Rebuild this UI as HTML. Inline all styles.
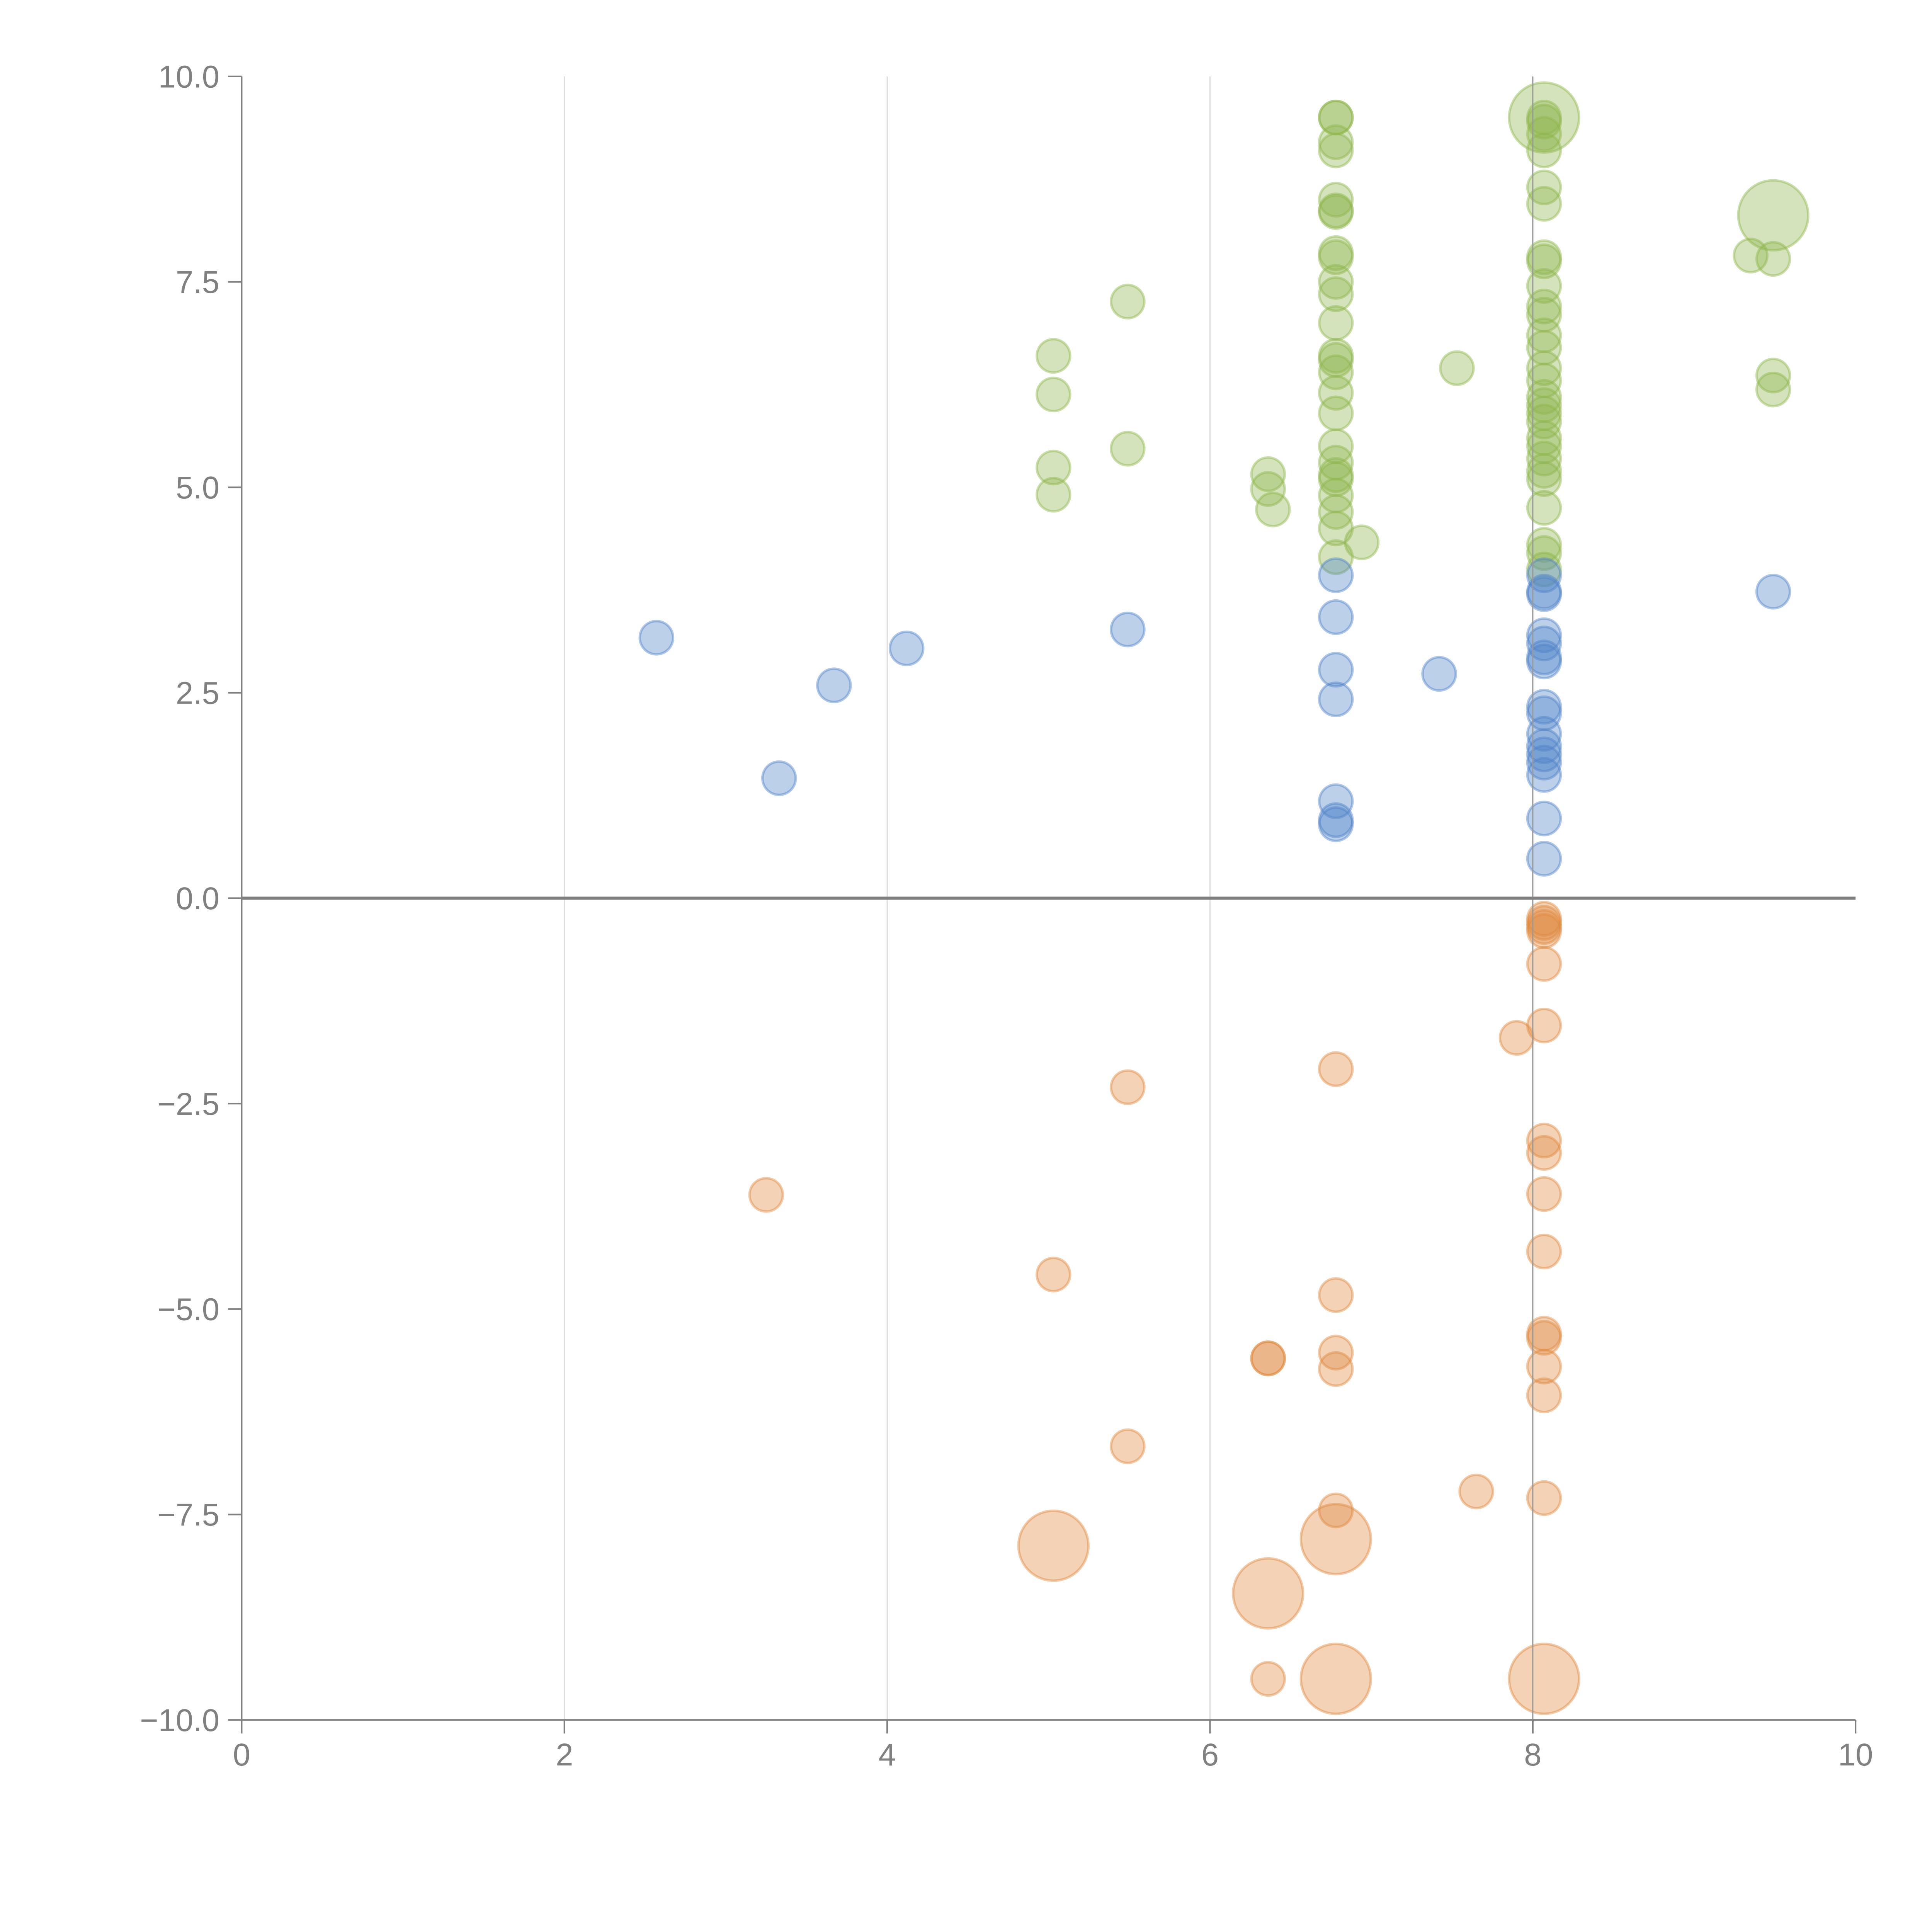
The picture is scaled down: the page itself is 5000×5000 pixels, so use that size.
<!DOCTYPE html>
<html><head><meta charset="utf-8"><style>
html,body{margin:0;padding:0;background:#fff}
svg{display:block}
text{font-family:"Liberation Sans",sans-serif;fill:#808080}
</style></head><body>
<svg id="chart" width="5000" height="5000" viewBox="0 0 1567 1567" xmlns="http://www.w3.org/2000/svg">
<g id="grid"></g>
<g id="marks"></g>
<g id="grid2"></g>
<g id="axes"></g>
</svg>
<script>
const xTicks = [0,2,4,6,8,10];
const yTicks = [-10,-7.5,-5,-2.5,0,2.5,5,7.5,10];
const blueX = [2.57,3.33,3.67,4.12,5.49,6.78,6.78,6.78,6.78,6.78,6.78,6.78,7.42,8.07,8.07,8.07,8.07,8.07,8.07,8.07,8.07,8.07,8.07,8.07,8.07,8.07,8.07,8.07,8.07,9.49];
const blueY = [3.17,1.46,2.59,3.04,3.27,3.93,3.42,2.78,2.42,1.18,0.95,0.9,2.73,3.93,3.73,3.7,3.2,3.1,2.93,2.88,2.33,2.25,2.0,1.85,1.75,1.65,1.5,0.97,0.48,3.73];
const blueS = [1,1,1,1,1,1,1,1,1,1,1,1,1,1,1,1,1,1,1,1,1,1,1,1,1,1,1,1,1,1];
const greenX = [5.03,5.03,5.03,5.03,5.49,5.49,6.36,6.36,6.39,
 6.78,6.78,6.78,6.78,6.78,6.78,6.78,6.78,6.78,6.78,6.78,6.78,6.78,6.78,6.78,6.78,6.78,6.78,6.78,6.78,6.78,6.78,6.78,6.78,6.78,
 6.94,7.53,
 8.07,8.07,8.07,8.07,8.07,8.07,8.07,8.07,8.07,8.07,8.07,8.07,8.07,8.07,8.07,8.07,8.07,8.07,8.07,8.07,8.07,8.07,8.07,8.07,8.07,8.07,8.07,8.07,8.07,
 9.35,9.49,9.49,9.49,9.49];
const greenY = [6.6,6.13,5.24,4.91,7.26,5.47,5.16,4.98,4.73,
 9.5,9.5,9.2,9.1,8.5,8.37,8.35,7.85,7.8,7.5,7.35,7.0,6.6,6.55,6.4,6.15,5.9,5.5,5.3,5.15,5.1,4.9,4.7,4.5,4.15,
 4.33,6.45,
 9.5,9.5,9.45,9.3,9.1,8.65,8.45,7.8,7.75,7.45,7.2,7.1,6.85,6.7,6.45,6.3,6.1,6.0,5.9,5.8,5.6,5.5,5.35,5.2,5.1,4.75,4.3,4.2,4.0,
 7.82,7.78,8.31,6.36,6.19];
const greenS = [1,1,1,1,1,1,1,1,1,
 1,1,1,1,1,1,1,1,1,1,1,1,1,1,1,1,1,1,1,1,1,1,1,1,1,
 1,1,
 2.1,1,1,1,1,1,1,1,1,1,1,1,1,1,1,1,1,1,1,1,1,1,1,1,1,1,1,1,1,
 1,1,2.1,1,1];
const orangeX = [8.07,8.07,8.07,8.07,8.07,8.07,8.07,8.07,8.07,8.07,8.07,8.07,8.07,8.07,8.07,8.07,
 7.9,6.78,6.78,6.78,6.78,6.78,6.78,6.78,5.49,5.49,3.25,5.03,5.03,6.36,6.36,6.36,6.36,7.65];
const orangeY = [-0.25,-0.3,-0.35,-0.4,-0.8,-1.55,-2.95,-3.1,-3.6,-4.3,-5.3,-5.35,-5.7,-6.05,-7.3,-9.5,
 -1.7,-2.08,-4.83,-5.53,-5.73,-7.45,-7.8,-9.5,-2.3,-6.67,-3.61,-4.58,-7.88,-5.6,-5.6,-8.46,-9.5,-7.22];
const orangeS = [1,1,1,1,1,1,1,1,1,1,1,1,1,1,1,2.1,
 1,1,1,1,1,1,2.1,2.1,1,1,1,1,2.1,1,1,2.1,1,1];

const NS='http://www.w3.org/2000/svg';
const X0=196,X1=1505,Y0=1395,Y1=62;
function sx(v){return X0+(v-0)/(10-0)*(X1-X0);}
function sy(v){return Y0-(v+10)/20*(Y0-Y1);}
function mk(tag,attrs,parent){const e=document.createElementNS(NS,tag);for(const k in attrs)e.setAttribute(k,attrs[k]);parent.appendChild(e);return e;}
const grid=document.getElementById('grid'),grid2=document.getElementById('grid2'),marks=document.getElementById('marks'),axes=document.getElementById('axes');

xTicks.forEach(t=>{
  if(t>0&&t<10){const l=mk('line',{x1:sx(t),x2:sx(t),y1:Y1,y2:Y0,stroke:'#dcdcdc','stroke-width':1},grid);
    
    }
});
function series(xs,ys,ss,color,name){
  xs.forEach((x,i)=>{
    const c=mk('circle',{cx:sx(x),cy:sy(ys[i]),r:13.5*ss[i],fill:color,'fill-opacity':0.38,stroke:color,'stroke-opacity':0.45,'stroke-width':2},marks);
    
    
  });
}
series(greenX,greenY,greenS,'#8db54c','green');
series(blueX,blueY,blueS,'#4f83c7','blue');
series(orangeX,orangeY,orangeS,'#e08a3f','orange');

const g8=mk('line',{x1:sx(8),x2:sx(8),y1:Y1,y2:Y0,stroke:'#9a9a9a','stroke-width':1},grid2);



const z=mk('line',{x1:X0,x2:X1,y1:sy(0),y2:sy(0),stroke:'#808080','stroke-width':2.5},axes);


const ya=mk('line',{x1:X0,x2:X0,y1:Y1,y2:Y0,stroke:'#808080','stroke-width':1.3},axes);


const xa=mk('line',{x1:X0,x2:X1,y1:Y0,y2:Y0,stroke:'#808080','stroke-width':1.3},axes);



xTicks.forEach(t=>{
  const l=mk('line',{x1:sx(t),x2:sx(t),y1:Y0,y2:Y0+11,stroke:'#808080','stroke-width':1.3},axes);
  
  
  const tx=mk('text',{x:sx(t),y:Y0+37,'text-anchor':'middle','font-size':25.5},axes);
  tx.textContent=String(t);
  
  
});
yTicks.forEach(t=>{
  const l=mk('line',{x1:X0-11,x2:X0,y1:sy(t),y2:sy(t),stroke:'#808080','stroke-width':1.3},axes);
  
  
  const tx=mk('text',{x:X0-18,y:sy(t)+9,'text-anchor':'end','font-size':25.5},axes);
  tx.textContent=(t<0?'\u2212':'')+Math.abs(t).toFixed(1);
  
  
});
</script>
</body></html>
